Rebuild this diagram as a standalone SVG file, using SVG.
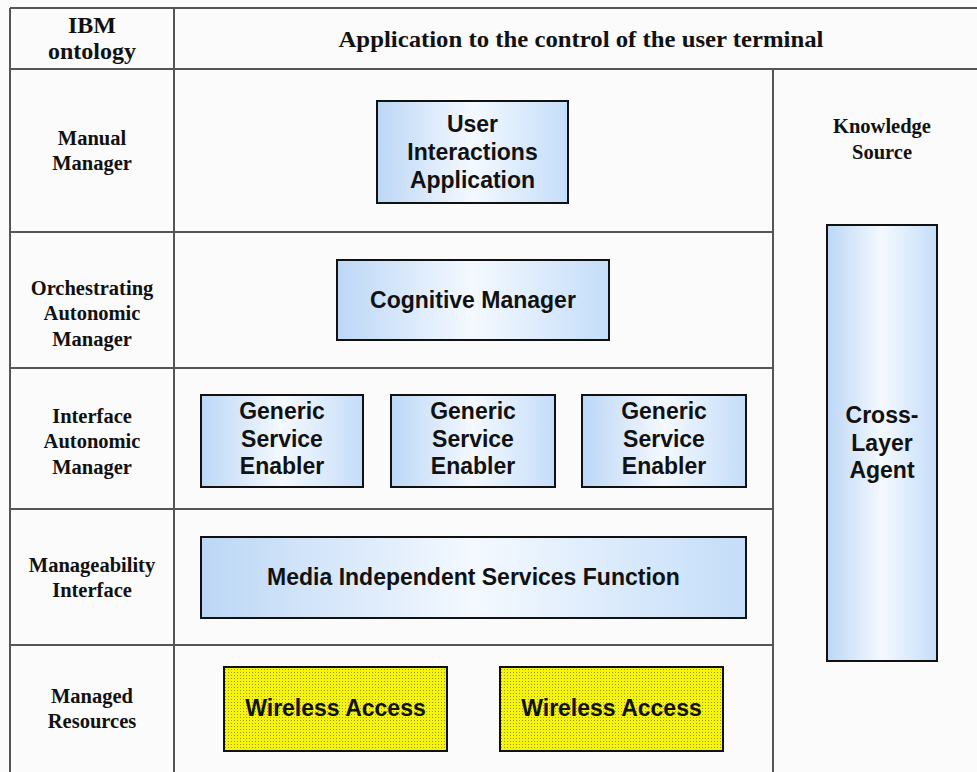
<svg xmlns="http://www.w3.org/2000/svg" width="977" height="772" viewBox="0 0 977 772">
<defs>
<linearGradient id="blue" x1="0" y1="0" x2="1" y2="0">
<stop offset="0" stop-color="#bcd7f6"/>
<stop offset="0.5" stop-color="#f4f9ff"/>
<stop offset="1" stop-color="#c4ddf9"/>
</linearGradient>
<pattern id="dots" width="3" height="3" patternUnits="userSpaceOnUse">
<rect width="3" height="3" fill="#f4f40e"/>
<rect width="1" height="1" fill="#9a9a20"/>
</pattern>
<style>
.grid{stroke:#555;stroke-width:2;fill:none}
.box{fill:url(#blue);stroke:#111;stroke-width:2}
.ybox{fill:url(#dots);stroke:#111;stroke-width:2}
.bt{font-family:"Liberation Sans",Arial,sans-serif;font-weight:bold;font-size:23px;fill:#111;text-anchor:middle}
.lt{font-family:"Liberation Serif","Times New Roman",serif;font-weight:bold;font-size:20.5px;fill:#111;text-anchor:middle}
.ht{font-family:"Liberation Serif","Times New Roman",serif;font-weight:bold;font-size:24px;fill:#111;text-anchor:middle}
</style>
</defs>
<rect width="977" height="772" fill="#fbfbfb"/>
<g id="table">
<line class="grid" x1="10" y1="8" x2="977" y2="8"/>
<line class="grid" x1="10" y1="69" x2="977" y2="69"/>
<line class="grid" x1="10" y1="8" x2="10" y2="772"/>
<line class="grid" x1="174" y1="8" x2="174" y2="772"/>
<line class="grid" x1="773" y1="69" x2="773" y2="772"/>
<line class="grid" x1="10" y1="232" x2="773" y2="232"/>
<line class="grid" x1="10" y1="368" x2="773" y2="368"/>
<line class="grid" x1="10" y1="509" x2="773" y2="509"/>
<line class="grid" x1="10" y1="645" x2="773" y2="645"/>
</g>
<g id="labels">
<text class="ht" x="92" y="33">IBM</text>
<text class="ht" x="92" y="59">ontology</text>
<text class="ht" x="581" y="47" textLength="485" lengthAdjust="spacingAndGlyphs">Application to the control of the user terminal</text>
<text class="lt" x="92" y="145">Manual</text>
<text class="lt" x="92" y="170">Manager</text>
<text class="lt" x="92" y="295">Orchestrating</text>
<text class="lt" x="92" y="320">Autonomic</text>
<text class="lt" x="92" y="346">Manager</text>
<text class="lt" x="92" y="423">Interface</text>
<text class="lt" x="92" y="448">Autonomic</text>
<text class="lt" x="92" y="474">Manager</text>
<text class="lt" x="92" y="572">Manageability</text>
<text class="lt" x="92" y="597">Interface</text>
<text class="lt" x="92" y="703">Managed</text>
<text class="lt" x="92" y="728">Resources</text>
<text class="lt" x="882" y="133">Knowledge</text>
<text class="lt" x="882" y="159">Source</text>
</g>
<g id="user-interactions">
<rect class="box" x="377" y="101" width="191" height="102"/>
<text class="bt" x="472.5" y="132">User</text>
<text class="bt" x="472.5" y="160">Interactions</text>
<text class="bt" x="472.5" y="188">Application</text>
</g>
<g id="cognitive-manager">
<rect class="box" x="337" y="260" width="272" height="80"/>
<text class="bt" x="473" y="308">Cognitive Manager</text>
</g>
<g id="gse1">
<rect class="box" x="201" y="395" width="162" height="92"/>
<text class="bt" x="282" y="419">Generic</text>
<text class="bt" x="282" y="447">Service</text>
<text class="bt" x="282" y="474">Enabler</text>
</g>
<g id="gse2">
<rect class="box" x="391" y="395" width="164" height="92"/>
<text class="bt" x="473" y="419">Generic</text>
<text class="bt" x="473" y="447">Service</text>
<text class="bt" x="473" y="474">Enabler</text>
</g>
<g id="gse3">
<rect class="box" x="582" y="395" width="164" height="92"/>
<text class="bt" x="664" y="419">Generic</text>
<text class="bt" x="664" y="447">Service</text>
<text class="bt" x="664" y="474">Enabler</text>
</g>
<g id="misf">
<rect class="box" x="201" y="537" width="545" height="81"/>
<text class="bt" x="473.5" y="585">Media Independent Services Function</text>
</g>
<g id="wireless1">
<rect class="ybox" x="224" y="667" width="223" height="84"/>
<text class="bt" x="335.5" y="716">Wireless Access</text>
</g>
<g id="wireless2">
<rect class="ybox" x="500" y="667" width="223" height="84"/>
<text class="bt" x="611.5" y="716">Wireless Access</text>
</g>
<g id="cross-layer-agent">
<rect class="box" x="827" y="225" width="110" height="436"/>
<text class="bt" x="882" y="423">Cross-</text>
<text class="bt" x="882" y="451">Layer</text>
<text class="bt" x="882" y="478">Agent</text>
</g>
<g id="connectors"/>
</svg>
